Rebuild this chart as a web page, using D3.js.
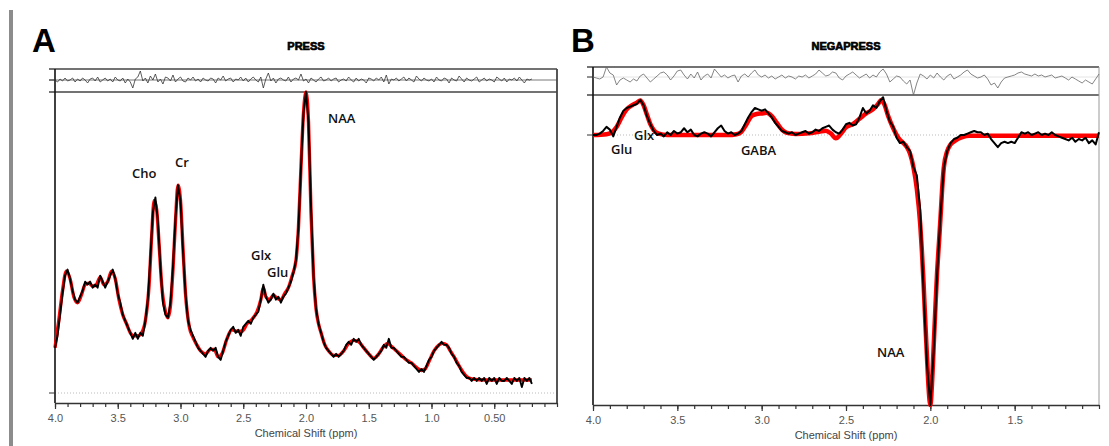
<!DOCTYPE html>
<html>
<head>
<meta charset="utf-8">
<script src="https://cdn.jsdelivr.net/npm/d3@7"></script>
<style>
  body { margin: 0; background: #fff; }
  svg { display: block; }
</style>
</head>
<body>
<script>
// ---- Panel A (PRESS) ----
// sampled spectrum, starts at 4.00 ppm, one value every 0.02 ppm
const ppmStep = 0.02;
const dataA = [
  15, 19, 26, 33, 39, 41, 38, 34, 31, 30,
  32, 34, 37, 36, 37, 35, 36, 35, 39, 37,
  35, 37, 39, 41, 38, 33, 30, 26, 24, 22,
  20, 18, 20, 18, 20, 19, 24, 31, 45, 60,
  65, 57, 42, 30, 26, 25, 30, 42, 58, 69,
  64, 47, 33, 24, 21, 19, 17, 15, 14, 13,
  12, 14, 15, 14, 15, 12, 11, 14, 17, 19,
  21, 22, 20, 21, 19, 22, 23, 24, 23, 25,
  26, 27, 31, 36, 32, 30, 31, 33, 31, 32,
  30, 32, 33, 35, 37, 40, 44, 55, 75, 93,
  100, 90, 62, 39, 28, 23, 20, 17, 15, 14,
  13, 12, 13, 12, 13, 14, 16, 17, 16, 18,
  17, 18, 16, 15, 14, 13, 12, 11, 12, 13,
  14, 16, 15, 18, 15, 15, 14, 13, 12, 12,
  11, 10, 10, 9, 8, 7, 8, 7, 9, 11,
  12, 14, 15, 16, 17, 16, 16, 15, 13, 12,
  10, 9, 7, 6, 5, 5, 4, 5, 4, 5,
  4, 5, 3, 5, 4, 5, 3, 5, 4, 4,
  5, 4, 3, 5, 4, 5, 2, 5, 4, 5,
  3
];
// fitted model [ppm, amplitude]
const fitA = [
  [4.00, 15], [3.97, 24], [3.94, 34], [3.91, 40.5], [3.88, 38], [3.85, 32], [3.82, 30],
  [3.79, 32.5], [3.76, 36], [3.73, 36.5], [3.70, 35.5], [3.67, 36], [3.64, 38.5], [3.61, 36],
  [3.58, 37], [3.55, 40.5], [3.52, 38], [3.49, 31], [3.46, 26], [3.43, 23], [3.40, 20],
  [3.37, 19], [3.34, 19], [3.31, 20], [3.28, 24], [3.25, 36], [3.23, 52], [3.21, 64],
  [3.19, 61], [3.17, 49], [3.15, 36], [3.12, 27], [3.10, 25], [3.08, 29], [3.06, 41],
  [3.04, 57], [3.02, 69], [3.00, 64], [2.98, 48], [2.96, 33], [2.93, 22], [2.90, 18.5],
  [2.87, 16], [2.84, 14], [2.80, 13], [2.76, 14.5], [2.73, 14.5], [2.70, 12], [2.67, 13],
  [2.63, 18], [2.59, 21], [2.55, 20.5], [2.51, 20.5], [2.47, 23], [2.43, 24.5], [2.39, 27],
  [2.36, 31], [2.34, 35], [2.32, 32], [2.29, 31], [2.26, 32.5], [2.23, 31.5], [2.20, 31],
  [2.17, 33], [2.14, 35], [2.11, 39], [2.08, 44], [2.06, 55], [2.04, 75], [2.02, 93],
  [2.00, 100], [1.98, 90], [1.96, 60], [1.94, 39], [1.92, 28], [1.90, 23], [1.88, 20],
  [1.85, 16], [1.82, 14], [1.78, 12.5], [1.74, 12.5], [1.70, 14], [1.66, 16.5], [1.62, 17.5],
  [1.58, 17], [1.54, 15], [1.50, 13], [1.46, 11.5], [1.42, 13], [1.38, 15.5], [1.35, 16.5],
  [1.32, 15.5], [1.28, 14], [1.24, 12.5], [1.20, 11], [1.16, 10], [1.12, 8.5], [1.08, 7.5],
  [1.05, 8], [1.02, 10.5], [0.98, 14], [0.94, 16], [0.91, 16.5], [0.88, 16], [0.85, 14],
  [0.82, 12], [0.78, 9], [0.75, 7], [0.72, 5.5], [0.68, 4.7], [0.62, 4.4], [0.50, 4.3],
  [0.40, 4.3], [0.30, 4.3], [0.20, 4.3]
];
// residual, same sampling as dataA
const residA = [
  0, -2, 1, -1, 2, -1, 0, 2, -2, 1,
  -1, 2, 0, -3, 1, 2, -1, 3, -2, 0,
  2, -1, 1, -2, 3, 0, -1, 2, -3, 1,
  -2, -8, 1, 3, 9, -1, 2, -3, 4, 0,
  6, -2, 1, -4, 3, 2, -1, 5, -2, 1,
  3, -1, -2, 2, 0, 3, -1, 1, -2, 2,
  0, -1, 2, 1, -3, 2, 0, 4, -1, 1,
  2, -2, 1, 0, 3, -1, 2, -2, 1, 3,
  0, -2, 3, -8, 1, 7, -1, 2, -3, 1,
  2, 0, -1, 3, -2, 1, 2, 0, 6, -1,
  1, -3, 2, 0, -2, 1, 3, -1, 0, 2,
  -1, 1, 2, -2, 0, 1, -1, 3, 0, -2,
  2, -1, 1, 0, -3, 2, 1, -1, 2, 0,
  3, -2, 5, -4, 1, 0, 2, -1, 1, 3,
  -1, 2, 0, -2, 4, 1, -1, 2, 0, -1,
  1, -2, 3, 0, -1, 2, 1, -3, 2, 0,
  -1, 4, 1, -2, 2, 0, -1, 1, 3, -2,
  0, 2, -1, 1, 0, -2, 3, 1, -1, 2,
  -2, 1, 0, 2, -1, 3, 0, -3, 1, 0,
  1
];
const tickValuesA = [4.0, 3.5, 3.0, 2.5, 2.0, 1.5, 1.0, 0.5];
const tickLabelsA = ["4.0", "3.5", "3.0", "2.5", "2.0", "1.5", "1.0", "0.50"];
const peakLabelsA = [
  {name: "Cho", ppm: 3.386, value: 71.4},
  {name: "Cr", ppm: 3.044, value: 75.1},
  {name: "NAA", ppm: 1.825, value: 89.7},
  {name: "Glx", ppm: 2.438, value: 44.2},
  {name: "Glu", ppm: 2.311, value: 38.5}
];

// ---- Panel B (MEGA-PRESS difference) ----
const dataB = [
  0, 0, 0.5, 1.5, 3, 2, -0.5, 3, 6.5, 9,
  10, 10.5, 11, 11.5, 13, 11, 7, 4, 1.5, 0,
  0.5, -0.5, 1, 0, 1.5, 0.5, 1, 2.5, 1, 2,
  0, -0.5, 0.5, 1, 0.5, -0.5, 1, 2.5, 3.5, 1.5,
  0.5, 1, 0, 0.5, 1.5, 4, 6.5, 8.5, 10, 9.5,
  9, 9.5, 8, 6.5, 4.5, 3, 1.5, 1, 0.5, 1,
  0, 0.5, 1, 1.5, 0.5, 1, 2, 1.5, 2.5, 3,
  3.5, 2, 1, 0.5, 2, 4, 4.5, 3.5, 4, 6.5,
  10, 8, 9, 11, 10, 12.5, 14, 9, 5, 3,
  -1, -3, -2.5, -4.5, -6, -12, -15, -28, -58, -85,
  -100, -80, -52, -30, -12, -6, -3, -1.5, -1, 0,
  0, 0.5, 1, 1.5, 1, 1, 0, 0.5, -1.5, -3,
  -4.5, -3, -2.5, -3, -2.5, -3, -1, 1, 0.5, 1,
  0, 0.5, 1, 0, 0.5, 0, 1, 0, -0.5, -1,
  -1.5, -2, -1, -2.5, -1.5, -2, -1, -3, -2, -3.5,
  1
];
const fitB = [
  [4.00, 0], [3.92, 0.3], [3.89, 1], [3.86, 3], [3.83, 6.5], [3.80, 9.5], [3.77, 11],
  [3.74, 12], [3.72, 12.8], [3.70, 11], [3.68, 7.5], [3.66, 4], [3.64, 1.8], [3.61, 0.5],
  [3.56, 0], [3.20, 0], [3.15, 0.3], [3.12, 1.2], [3.09, 4], [3.06, 7], [3.03, 7.8],
  [3.00, 8], [2.97, 8.2], [2.94, 7], [2.91, 4.5], [2.88, 2], [2.85, 0.8], [2.80, 0.4],
  [2.72, 0.6], [2.66, 1.2], [2.62, 1.6], [2.59, 0.6], [2.56, -1.2], [2.53, 0.5], [2.50, 2.8],
  [2.46, 4], [2.42, 6], [2.38, 8], [2.34, 9.5], [2.31, 11.5], [2.29, 13], [2.27, 11],
  [2.25, 7], [2.22, 2.5], [2.19, -1], [2.16, -3], [2.14, -4.4], [2.12, -7], [2.10, -12],
  [2.08, -20], [2.06, -33], [2.05, -43], [2.04, -55], [2.03, -69], [2.02, -82], [2.01, -94],
  [2.00, -100], [1.99, -92], [1.98, -78], [1.97, -64], [1.96, -51], [1.95, -41], [1.94, -31],
  [1.93, -20], [1.92, -12], [1.90, -6], [1.88, -3.5], [1.85, -2], [1.81, -0.8], [1.77, -0.3],
  [1.00, -0.3]
];
const residB = [
  0, -1, -2, 0, 10, 4, 2, -8, -3, -1,
  -3, -5, -2, -4, 1, 3, -1, -5, -2, 1,
  4, 5, 2, -3, 1, 6, 7, 2, -2, 3,
  -1, 5, -3, 1, 3, -1, 8, 4, 0, 2,
  -1, 1, 2, -5, 1, 3, 0, 4, 7, 2,
  0, 2, -1, 1, -2, 0, 2, -1, 1, 0,
  -2, 1, 0, 2, -1, 1, 3, 7, 4, 1,
  2, 5, 4, -1, -3, 1, 3, 5, 2, -1,
  1, 3, -1, 2, 0, 5, 8, 3, -5, -2,
  1, 0, -4, -7, -3, -18, -6, 3, 1, -2,
  2, -1, 4, 0, -3, 1, 3, -2, 0, 2,
  5, 7, 3, 1, -1, 0, 2, -2, -8, -6,
  -11, -5, -1, 0, 1, 2, 4, 5, 3, 2,
  1, 3, 1, 2, 0, 1, 2, -1, 0, 1,
  -1, -3, 0, -2, -4, -6, -3, -5, -7, -2,
  3
];
const tickValuesB = [4.0, 3.5, 3.0, 2.5, 2.0, 1.5];
const tickLabelsB = ["4.0", "3.5", "3.0", "2.5", "2.0", "1.5"];
const peakLabelsB = [
  {name: "Glu", ppm: 3.893, value: -7.0},
  {name: "Glx", ppm: 3.757, value: -1.85},
  {name: "GABA", ppm: 3.123, value: -7.4},
  {name: "NAA", ppm: 2.316, value: -82.2}
];

// Create the SVG container
const svg = d3.select("body").append("svg")
    .attr("width", 1109)
    .attr("height", 446);

// gray rule down the left side of the figure
svg.append("rect")
    .attr("x", 9)
    .attr("y", 10)
    .attr("width", 4)
    .attr("height", 436)
    .attr("fill", "#8c8c8c");

function drawPanel(p) {
    const x = d3.scaleLinear().domain(p.xDomain).range([p.left, p.right]);
    const y = d3.scaleLinear().domain(p.yDomain).range([p.baseY, p.peakY]);
    const yRes = d3.scaleLinear().domain(p.resDomain).range([p.resBottom, p.resTop]);
    const g = svg.append("g");

    // panel letter and title
    g.append("text")
        .attr("x", p.letterX)
        .attr("y", 52)
        .style("font-family", "Liberation Sans, Arial, sans-serif")
        .style("font-weight", "bold")
        .style("font-size", "33px")
        .text(p.letter);

    g.append("text")
        .attr("x", (p.left + p.right) / 2)
        .attr("y", 50)
        .attr("text-anchor", "middle")
        .style("font-family", "Liberation Sans, Arial, sans-serif")
        .style("font-weight", "bold")
        .style("font-size", "11px")
        .style("stroke", "#000")
        .style("stroke-width", 0.7)
        .text(p.title);

    // dotted zero line of the spectrum
    g.append("line")
        .attr("x1", p.left).attr("x2", p.right)
        .attr("y1", y(0)).attr("y2", y(0))
        .attr("stroke", "#bbb")
        .attr("stroke-dasharray", "1,2");

    // residual zero line
    g.append("line")
        .attr("x1", p.left - 6).attr("x2", p.right)
        .attr("y1", yRes(0)).attr("y2", yRes(0))
        .attr("stroke", p.resZeroColor)
        .attr("stroke-width", 0.8);

    // residual box + frame
    [p.resTop, p.resBottom].forEach(v => {
        g.append("line")
            .attr("x1", p.left - 6).attr("x2", p.right)
            .attr("y1", v).attr("y2", v)
            .attr("stroke", "#444")
            .attr("stroke-width", 1.6);
    });
    g.append("line")
        .attr("x1", p.right).attr("x2", p.right)
        .attr("y1", p.resTop).attr("y2", p.axisY)
        .attr("stroke", p.rightColor)
        .attr("stroke-width", p.rightWidth);
    g.append("line")
        .attr("x1", p.left).attr("x2", p.left)
        .attr("y1", p.resTop).attr("y2", p.axisY)
        .attr("stroke", "#111")
        .attr("stroke-width", 1.6);
    // left ticks at both zero levels
    [yRes(0), y(0)].forEach(v => {
        g.append("line")
            .attr("x1", p.left - 6).attr("x2", p.left)
            .attr("y1", v).attr("y2", v)
            .attr("stroke", "#333")
            .attr("stroke-width", 1);
    });

    // bottom axis: minor ticks every 0.1 ppm, labels every 0.5
    const minor = d3.range(Math.round(p.xDomain[1] * 10), Math.round(p.xDomain[0] * 10) + 1).map(d => d / 10);
    g.append("g")
        .attr("transform", "translate(0," + p.axisY + ")")
        .call(d3.axisBottom(x).tickValues(minor).tickSize(4).tickSizeOuter(0).tickFormat(""))
        .call(a => a.select(".domain").attr("stroke", "#333").attr("stroke-width", 1.4))
        .call(a => a.selectAll(".tick line").attr("stroke", "#333").attr("stroke-width", 1.2));

    g.append("g")
        .attr("transform", "translate(0," + p.axisY + ")")
        .call(d3.axisBottom(x).tickValues(p.tickValues).tickSize(6).tickSizeOuter(0).tickPadding(5)
            .tickFormat((d, i) => p.tickLabels[i]))
        .call(a => a.select(".domain").remove())
        .call(a => a.selectAll(".tick line").attr("stroke", "#333").attr("stroke-width", 1.2))
        .call(a => a.selectAll(".tick text")
            .style("font-family", "Liberation Sans, Arial, sans-serif")
            .style("font-size", "11px")
            .attr("fill", "#555"));

    g.append("text")
        .attr("x", (p.left + p.right) / 2)
        .attr("y", p.axisY + 34)
        .attr("text-anchor", "middle")
        .style("font-family", "Liberation Sans, Arial, sans-serif")
        .style("font-size", "11px")
        .attr("fill", "#444")
        .text("Chemical Shift (ppm)");

    // residual trace
    g.append("path")
        .datum(p.resid)
        .attr("fill", "none")
        .attr("stroke", p.resColor)
        .attr("stroke-width", 0.8)
        .attr("d", d3.line()
            .x((d, i) => x(p.xDomain[0] - i * ppmStep))
            .y(d => yRes(d)));

    // model fit (red) under the measured spectrum (black)
    g.append("path")
        .datum(p.fit)
        .attr("fill", "none")
        .attr("stroke", "#ff0000")
        .attr("stroke-width", p.fitWidth)
        .attr("stroke-linejoin", "round")
        .attr("d", d3.line()
            .curve(d3.curveMonotoneX)
            .x(d => x(d[0]))
            .y(d => y(d[1])));

    g.append("path")
        .datum(p.data)
        .attr("fill", "none")
        .attr("stroke", "#000")
        .attr("stroke-width", p.dataWidth)
        .attr("stroke-linejoin", "round")
        .attr("d", d3.line()
            .x((d, i) => x(p.xDomain[0] - i * ppmStep))
            .y(d => y(d)));

    // metabolite labels
    g.selectAll(".peak-label")
        .data(p.labels)
        .enter().append("text")
        .attr("class", "peak-label")
        .attr("x", d => x(d.ppm))
        .attr("y", d => y(d.value))
        .style("font-family", "Open Sans, sans-serif")
        .style("font-weight", 600)
        .style("font-size", "13px")
        .attr("fill", "#111")
        .text(d => d.name);
}

drawPanel({
    letter: "A", letterX: 32, title: "PRESS",
    xDomain: [4.0, 0.0], left: 55, right: 557,
    yDomain: [0, 100], baseY: 393, peakY: 92,
    resDomain: [-12, 11], resTop: 69, resBottom: 92,
    axisY: 403,
    data: dataA, fit: fitA, resid: residA,
    tickValues: tickValuesA, tickLabels: tickLabelsA, labels: peakLabelsA,
    resColor: "#333", resZeroColor: "#555",
    rightColor: "#444", rightWidth: 1.8,
    fitWidth: 3.4, dataWidth: 1.9
});

drawPanel({
    letter: "B", letterX: 571, title: "NEGAPRESS",
    xDomain: [4.0, 1.0], left: 593, right: 1099,
    yDomain: [-100, 0], baseY: 405, peakY: 135,
    resDomain: [-18, 10], resTop: 67, resBottom: 95,
    axisY: 405,
    data: dataB, fit: fitB, resid: residB,
    tickValues: tickValuesB, tickLabels: tickLabelsB, labels: peakLabelsB,
    resColor: "#666", resZeroColor: "#ddd",
    rightColor: "#999", rightWidth: 1,
    fitWidth: 4.5, dataWidth: 2
});
</script>
</body>
</html>
